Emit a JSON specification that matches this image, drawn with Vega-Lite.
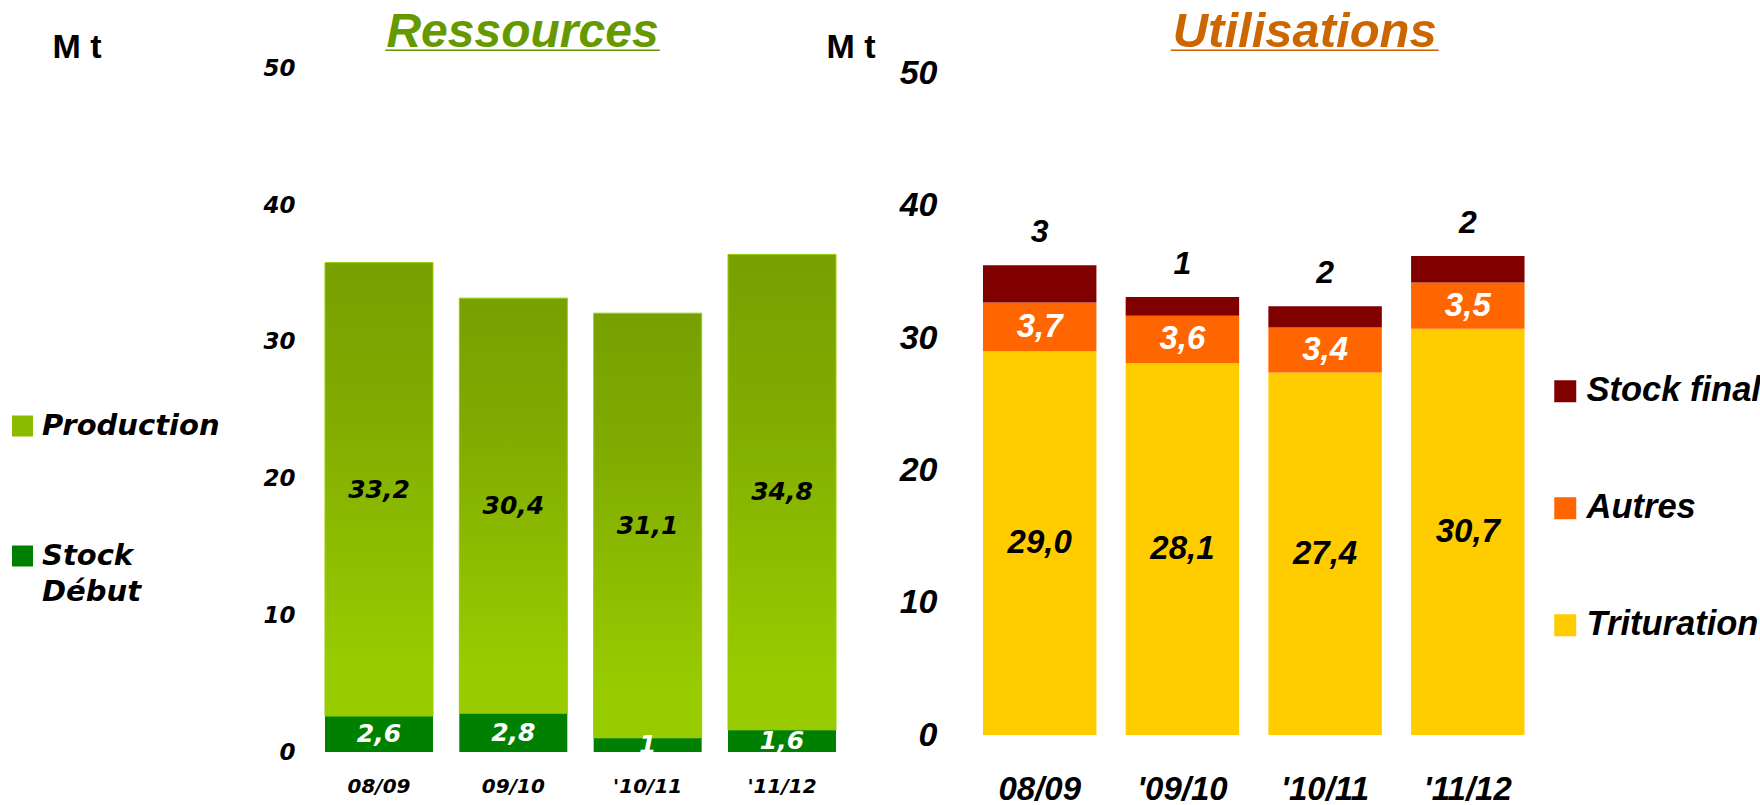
{
  "$schema": "https://vega.github.io/schema/vega-lite/v6.json",
  "autosize": {"type": "none"},
  "padding": {"left": 300, "top": 68.5, "right": 1460, "bottom": 736.5},
  "background": "white",
  "config": {
    "view": {"stroke": null},
    "locale": {"number": {"decimal": ",", "thousands": " ", "grouping": [3], "currency": ["", " €"]}},
    "style": {"guide-label": {"lineHeight": 36}}
  },
  "datasets": {
    "ressources": [
      {"campagne": "08/09", "cat": "Stock Début", "v": 2.6},
      {"campagne": "08/09", "cat": "Production", "v": 33.2},
      {"campagne": "09/10", "cat": "Stock Début", "v": 2.8},
      {"campagne": "09/10", "cat": "Production", "v": 30.4},
      {"campagne": "'10/11", "cat": "Stock Début", "v": 1},
      {"campagne": "'10/11", "cat": "Production", "v": 31.1},
      {"campagne": "'11/12", "cat": "Stock Début", "v": 1.6},
      {"campagne": "'11/12", "cat": "Production", "v": 34.8}
    ],
    "utilisations": [
      {"campagne": "08/09", "cat": "Trituration", "v": 29.0},
      {"campagne": "08/09", "cat": "Autres", "v": 3.7},
      {"campagne": "08/09", "cat": "Stock final", "v": 2.8},
      {"campagne": "'09/10", "cat": "Trituration", "v": 28.1},
      {"campagne": "'09/10", "cat": "Autres", "v": 3.6},
      {"campagne": "'09/10", "cat": "Stock final", "v": 1.4},
      {"campagne": "'10/11", "cat": "Trituration", "v": 27.4},
      {"campagne": "'10/11", "cat": "Autres", "v": 3.4},
      {"campagne": "'10/11", "cat": "Stock final", "v": 1.6},
      {"campagne": "'11/12", "cat": "Trituration", "v": 30.7},
      {"campagne": "'11/12", "cat": "Autres", "v": 3.5},
      {"campagne": "'11/12", "cat": "Stock final", "v": 2.0}
    ]
  },
  "bounds": "flush",
  "spacing": 94,
  "resolve": {"scale": {"fill": "independent", "y": "independent", "x": "independent"}, "legend": {"fill": "independent"}},
  "hconcat": [
    {
      "width": 561,
      "height": 683.5,
      "data": {"name": "ressources"},
      "transform": [
        {"stack": "v", "groupby": ["campagne"], "sort": [{"field": "cat", "order": "descending"}], "as": ["v0", "v1"]}
      ],
      "title": {
        "text": "Ressources",
        "subtitle": "____________",
        "frame": "group",
        "anchor": "middle",
        "dx": -58,
        "offset": -27,
        "color": "#669900",
        "subtitleColor": "#669900",
        "font": "Liberation Sans",
        "subtitleFont": "Liberation Sans",
        "fontSize": 48,
        "fontStyle": "italic",
        "fontWeight": "bold",
        "subtitleFontSize": 41,
        "subtitleFontWeight": "bold",
        "subtitleFontStyle": "normal",
        "subtitlePadding": -43
      },
      "encoding": {
        "x": {
          "field": "campagne",
          "type": "nominal",
          "sort": null,
          "scale": {"paddingInner": 0.196, "paddingOuter": 0.186},
          "axis": {
            "title": null,
            "labelAngle": 0,
            "domain": false,
            "ticks": false,
            "tickSize": 0,
            "grid": false,
            "labelPadding": 24,
            "labelFont": "DejaVu Sans",
            "labelFontSize": 20,
            "labelFontStyle": "italic",
            "labelFontWeight": "bold",
            "labelColor": "#000000"
          }
        },
        "y": {
          "field": "v1",
          "type": "quantitative",
          "scale": {"domain": [0, 50], "nice": false},
          "axis": {
            "title": "M t",
            "titleAngle": 0,
            "titleAlign": "left",
            "titleBaseline": "alphabetic",
            "titleX": -248,
            "titleY": -11.5,
            "titleFont": "Liberation Sans",
            "titleFontSize": 34,
            "titleFontWeight": "bold",
            "titleColor": "#000000",
            "values": [0, 10, 20, 30, 40, 50],
            "domain": false,
            "ticks": false,
            "tickSize": 0,
            "grid": false,
            "labelPadding": 5,
            "labelFont": "DejaVu Sans",
            "labelFontSize": 23,
            "labelFontStyle": "italic",
            "labelFontWeight": "bold",
            "labelColor": "#000000"
          }
        }
      },
      "layer": [
        {
          "transform": [{"filter": {"field": "cat", "equal": "Production"}}],
          "mark": {
            "type": "bar",
            "fill": {
              "gradient": "linear",
              "x1": 0, "y1": 0, "x2": 0, "y2": 1,
              "stops": [
                {"offset": 0, "color": "#77a000"},
                {"offset": 0.3, "color": "#80aa00"},
                {"offset": 0.9, "color": "#99cc00"},
                {"offset": 1, "color": "#99cc00"}
              ]
            },
            "stroke": "#9acd00",
            "strokeWidth": 1
          },
          "encoding": {
            "y2": {"field": "v0"}
          }
        },
        {
          "transform": [{"filter": {"field": "cat", "equal": "Stock Début"}}],
          "mark": {"type": "bar"},
          "encoding": {
            "y2": {"field": "v0"},
            "fill": {
              "field": "cat",
              "type": "nominal",
              "scale": {"domain": ["Production", "Stock Début"], "range": ["#8cba00", "#008000"]},
              "legend": {
                "title": null,
                "orient": "none",
                "legendX": -292,
                "legendY": 343,
                "symbolType": "square",
                "symbolSize": 441,
                "symbolStrokeWidth": 0,
                "labelFont": "DejaVu Sans",
                "labelFontSize": 29,
                "labelFontStyle": "italic",
                "labelFontWeight": "bold",
                "labelColor": "#000000",
                "labelOffset": 5,
                "labelLimit": 400,
                "rowPadding": 100,
                "labelExpr": "datum.label == 'Stock Début' ? ['Stock', 'Début'] : datum.label"
              }
            }
          }
        },
        {
          "transform": [
            {"filter": {"field": "cat", "equal": "Production"}},
            {"fold": ["v0", "v1"], "as": ["bord", "pos"]}
          ],
          "mark": {"type": "text", "font": "DejaVu Sans", "fontSize": 25, "fontStyle": "italic", "fontWeight": "bold", "color": "#000000", "baseline": "middle"},
          "encoding": {
            "y": {"aggregate": "mean", "field": "pos", "type": "quantitative"},
            "text": {"aggregate": "max", "field": "v", "type": "quantitative", "format": "~g"}
          }
        },
        {
          "transform": [
            {"filter": {"field": "cat", "equal": "Stock Début"}},
            {"fold": ["v0", "v1"], "as": ["bord", "pos"]}
          ],
          "mark": {"type": "text", "font": "DejaVu Sans", "fontSize": 25, "fontStyle": "italic", "fontWeight": "bold", "color": "#ffffff", "baseline": "middle"},
          "encoding": {
            "y": {"aggregate": "mean", "field": "pos", "type": "quantitative"},
            "text": {"aggregate": "max", "field": "v", "type": "quantitative", "format": "~g"}
          }
        }
      ]
    },
    {
      "width": 597.5,
      "height": 666.5,
      "data": {"name": "utilisations"},
      "transform": [
        {"stack": "v", "groupby": ["campagne"], "sort": [{"field": "v", "order": "descending"}], "as": ["v0", "v1"]}
      ],
      "title": {
        "text": "Utilisations",
        "subtitle": "____________",
        "frame": "group",
        "anchor": "middle",
        "dx": 51,
        "offset": -27,
        "color": "#cc6600",
        "subtitleColor": "#cc6600",
        "font": "Liberation Sans",
        "subtitleFont": "Liberation Sans",
        "fontSize": 49,
        "fontStyle": "italic",
        "fontWeight": "bold",
        "subtitleFontSize": 40,
        "subtitleFontWeight": "bold",
        "subtitleFontStyle": "normal",
        "subtitlePadding": -43
      },
      "encoding": {
        "x": {
          "field": "campagne",
          "type": "nominal",
          "sort": null,
          "scale": {"paddingInner": 0.205, "paddingOuter": 0.196},
          "axis": {
            "title": null,
            "labelAngle": 0,
            "domain": false,
            "ticks": false,
            "tickSize": 0,
            "grid": false,
            "labelPadding": 38,
            "labelFont": "Liberation Sans",
            "labelFontSize": 33,
            "labelFontStyle": "italic",
            "labelFontWeight": "bold",
            "labelColor": "#000000"
          }
        },
        "y": {
          "field": "v1",
          "type": "quantitative",
          "scale": {"domain": [0, 50.38], "nice": false},
          "axis": {
            "title": "M t",
            "titleAngle": 0,
            "titleAlign": "left",
            "titleBaseline": "alphabetic",
            "titleX": -129,
            "titleY": -11.5,
            "titleFont": "Liberation Sans",
            "titleFontSize": 34,
            "titleFontWeight": "bold",
            "titleColor": "#000000",
            "values": [0, 10, 20, 30, 40, 50],
            "domain": false,
            "ticks": false,
            "tickSize": 0,
            "grid": false,
            "labelPadding": 18,
            "labelFont": "Liberation Sans",
            "labelFontSize": 34,
            "labelFontStyle": "italic",
            "labelFontWeight": "bold",
            "labelColor": "#000000"
          }
        }
      },
      "layer": [
        {
          "mark": {"type": "bar"},
          "encoding": {
            "y2": {"field": "v0"},
            "fill": {
              "field": "cat",
              "type": "nominal",
              "scale": {"domain": ["Stock final", "Autres", "Trituration"], "range": ["#800000", "#ff6600", "#ffcc00"]},
              "legend": {
                "title": null,
                "orient": "none",
                "legendX": 593,
                "legendY": 305.5,
                "symbolType": "square",
                "symbolSize": 484,
                "symbolStrokeWidth": 0,
                "labelFont": "Liberation Sans",
                "labelFontSize": 34.5,
                "labelFontStyle": "italic",
                "labelFontWeight": "bold",
                "labelColor": "#000000",
                "labelOffset": 4,
                "labelLimit": 400,
                "rowPadding": 82
              }
            }
          }
        },
        {
          "transform": [
            {"filter": {"field": "cat", "equal": "Trituration"}},
            {"fold": ["v0", "v1"], "as": ["bord", "pos"]}
          ],
          "mark": {"type": "text", "font": "Liberation Sans", "fontSize": 33, "fontStyle": "italic", "fontWeight": "bold", "color": "#000000", "baseline": "middle"},
          "encoding": {
            "y": {"aggregate": "mean", "field": "pos", "type": "quantitative"},
            "text": {"aggregate": "max", "field": "v", "type": "quantitative", "format": ".1f"}
          }
        },
        {
          "transform": [
            {"filter": {"field": "cat", "equal": "Autres"}},
            {"fold": ["v0", "v1"], "as": ["bord", "pos"]}
          ],
          "mark": {"type": "text", "font": "Liberation Sans", "fontSize": 33, "fontStyle": "italic", "fontWeight": "bold", "color": "#ffffff", "baseline": "middle"},
          "encoding": {
            "y": {"aggregate": "mean", "field": "pos", "type": "quantitative"},
            "text": {"aggregate": "max", "field": "v", "type": "quantitative", "format": ".1f"}
          }
        },
        {
          "transform": [{"filter": {"field": "cat", "equal": "Stock final"}}],
          "mark": {"type": "text", "font": "Liberation Sans", "fontSize": 32, "fontStyle": "italic", "fontWeight": "bold", "color": "#000000", "baseline": "middle", "dy": -33},
          "encoding": {
            "text": {"field": "v", "type": "quantitative", "format": ".0f"}
          }
        }
      ]
    }
  ]
}
